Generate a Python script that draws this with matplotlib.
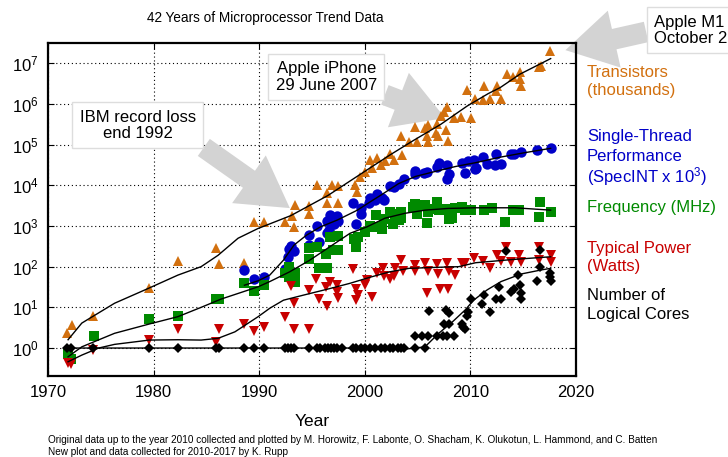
"""
42 years of microprocessor trend data (Rupp / Horowitz et al.), re-drawn.
"""

import matplotlib
matplotlib.use("Agg")
import matplotlib.pyplot as plt
from matplotlib import font_manager
from matplotlib.ticker import FixedLocator, NullLocator

plt.rcParams["font.family"] = ["Liberation Sans", "DejaVu Sans"]
plt.rcParams["mathtext.fontset"] = "custom"
plt.rcParams["mathtext.rm"] = "Liberation Sans"
plt.rcParams["mathtext.it"] = "Liberation Sans:italic"
plt.rcParams["mathtext.bf"] = "Liberation Sans:bold"

ORANGE = "#D2700F"
BLUE   = "#0000C8"
GREEN  = "#008A00"
RED    = "#C80000"

#  Transistors (thousands) 
tr_year = [1971.8, 1972.3, 1974.3, 1979.6, 1982.3, 1985.9, 1986.2, 1988.6, 1989.5, 1990.5,
           1992.4, 1993.3, 1993.1, 1993.4, 1994.7, 1994.7, 1995.5, 1996.4, 1996.4, 1996.9,
           1997.5, 1997.5, 1999.1, 1999.3, 1999.5, 2000.0, 2000.5, 2000.7, 2001.2, 2001.5,
           2001.9, 2002.4, 2002.8, 2003.4, 2003.5, 2004.2, 2004.8, 2004.9, 2005.7, 2005.9,
           2006.0, 2006.0, 2006.7, 2006.8, 2006.9, 2007.2, 2007.5, 2007.7, 2007.8, 2007.9,
           2008.4, 2009.1, 2009.7, 2010.1, 2010.4, 2011.2, 2011.3, 2011.9, 2012.4, 2012.5,
           2012.9, 2013.5, 2014.0, 2014.7, 2014.7, 2014.8, 2016.5, 2016.7, 2017.5]
tr_val  = [2.4, 3.7, 6.3, 30, 140, 290, 115, 125, 1250, 1250,
           1250, 950, 1800, 3200, 1950, 3100, 10000, 6300, 3700, 10000,
           9500, 3700, 10000, 6900, 16000, 21000, 42000, 26000, 46000, 32000,
           40000, 59000, 41000, 160000, 56000, 118000, 275000, 118000, 250000, 160000,
           118000, 310000, 190000, 330000, 160000, 510000, 650000, 234000, 850000, 120000,
           440000, 470000, 2200000, 440000, 1350000, 1230000, 2750000, 1290000, 2100000, 2750000,
           1290000, 5400000, 4500000, 6200000, 4000000, 2750000, 8100000, 8500000, 20000000]

#  Single-thread performance (SpecINT x 10^3) 
st_year = [1988.6, 1989.5, 1990.5, 1992.4, 1992.7, 1993.0, 1992.8, 1993.3, 1994.7, 1994.7,
           1995.7, 1995.5, 1996.4, 1996.4, 1996.6, 1996.7, 1997.1, 1997.4, 1997.5, 1998.9,
           1999.2, 1999.6, 1999.6, 2000.4, 2000.5, 2001.0, 2001.2, 2001.6, 2001.8, 2002.4,
           2002.8, 2003.2, 2003.7, 2004.8, 2004.8, 2005.6, 2005.9, 2006.8, 2007.0, 2007.8,
           2008.0, 2007.8, 2009.2, 2009.5, 2009.8, 2010.3, 2010.4, 2010.5, 2011.2, 2011.6,
           2012.3, 2012.4, 2012.9, 2013.8, 2014.1, 2014.8, 2016.3, 2017.6]
st_val  = [83, 51, 55, 89, 175, 320, 270, 245, 340, 600,
           410, 1000, 1340, 680, 800, 1860, 1150, 1750, 1350, 3600,
           1150, 1950, 2700, 3600, 5000, 4300, 6000, 4800, 4400, 9500,
           9100, 11000, 14000, 19000, 23000, 19500, 21000, 28000, 36000, 32000,
           19000, 14000, 36000, 20000, 39000, 42000, 25000, 26000, 49000, 33000,
           32000, 59000, 33000, 59000, 60000, 66000, 72000, 81000]

#  Frequency (MHz) 
fq_year = [1971.9, 1972.2, 1974.4, 1979.6, 1982.3, 1985.9, 1986.2, 1988.6, 1989.5, 1990.5,
           1992.4, 1992.8, 1993.4, 1993.4, 1992.8, 1994.7, 1994.7, 1995.7, 1996.4, 1996.3,
           1995.5, 1996.7, 1997.5, 1997.5, 1997.0, 1999.2, 1999.0, 1999.4, 2000.0, 2000.5,
           2001.0, 2001.1, 2001.6, 2001.8, 2002.4, 2002.7, 2002.9, 2003.2, 2003.4, 2003.4,
           2004.6, 2004.8, 2004.9, 2005.7, 2005.9, 2006.0, 2006.2, 2006.8, 2007.0, 2007.8,
           2008.0, 2008.3, 2008.5, 2009.2, 2009.5, 2010.1, 2011.3, 2012.0, 2013.3, 2014.0,
           2014.6, 2016.5, 2016.6, 2017.6]
fq_val  = [0.7, 0.53, 2.0, 5.1, 6.1, 16, 16, 40, 25, 35,
           71, 100, 69, 43, 56, 150, 280, 91, 91, 200,
           300, 540, 560, 260, 260, 310, 490, 540, 730, 1000,
           950, 1900, 830, 1450, 2200, 1150, 1950, 1400, 1550, 2200,
           3000, 3550, 2000, 3200, 1200, 2200, 2600, 3900, 2450, 2600,
           1450, 1550, 2700, 2950, 2500, 2500, 2450, 2700, 1260, 2450,
           2450, 1700, 3900, 2240]

#  Typical power (Watts) 
pw_year = [1971.9, 1972.2, 1974.3, 1979.6, 1982.3, 1985.9, 1986.2, 1988.6, 1989.5, 1990.5,
           1992.4, 1993.0, 1993.3, 1993.3, 1994.7, 1994.7, 1995.4, 1995.7, 1996.3, 1996.4,
           1996.7, 1997.4, 1997.4, 1997.5, 1998.9, 1999.2, 1999.4, 1999.2, 2000.0, 2000.2,
           2000.7, 2001.2, 2001.7, 2001.8, 2002.4, 2002.8, 2002.9, 2003.4, 2003.6, 2004.8,
           2004.8, 2005.7, 2005.9, 2006.0, 2006.8, 2006.9, 2007.1, 2007.8, 2007.9, 2008.0,
           2008.5, 2009.2, 2009.5, 2010.3, 2011.2, 2011.9, 2012.5, 2012.9, 2013.4, 2013.8,
           2014.6, 2014.8, 2016.5, 2016.5, 2017.6, 2017.6]
pw_val  = [0.44, 0.41, 0.9, 1.6, 2.9, 1.4, 2.9, 3.8, 2.6, 3.3,
           5.7, 33, 13, 3.0, 3.0, 27, 49, 16, 32, 11,
           43, 35, 24, 17, 86, 29, 20, 15, 35, 47,
           18, 71, 94, 59, 49, 59, 91, 145, 80, 110,
           80, 125, 23, 80, 115, 66, 29, 125, 29, 80,
           62, 125, 125, 160, 140, 91, 195, 140, 310, 130,
           195, 130, 300, 145, 195, 130]

#  Number of logical cores 
co_year = [1971.8, 1972.2, 1974.3, 1979.6, 1982.3, 1985.9, 1986.2, 1988.6, 1989.5, 1990.5,
           1992.4, 1992.7, 1993.0, 1993.3, 1994.7, 1995.5, 1995.8, 1996.2, 1996.5, 1996.8,
           1997.1, 1997.4, 1997.8, 1998.9, 1999.2, 1999.6, 2000.0, 2000.5, 2001.0, 2001.5,
           2001.9, 2002.4, 2002.7, 2003.1, 2003.4, 2003.7, 2004.8, 2005.7,
           2004.8, 2005.4, 2006.0, 2006.8, 2007.4, 2007.8, 2008.4,
           2006.1, 2007.7, 2008.0, 2007.5, 2008.0, 2009.2, 2009.3, 2009.5, 2009.7, 2009.8,
           2010.1, 2011.1, 2011.3, 2011.9, 2012.4, 2012.9, 2012.7, 2013.4, 2013.8, 2014.1,
           2014.5, 2014.7, 2014.8, 2014.8, 2016.3, 2016.6, 2016.6, 2017.5, 2017.5, 2017.6]
co_val  = [1, 1, 1, 1, 1, 1, 1, 1, 1, 1,
           1, 1, 1, 1, 1, 1, 1, 1, 1, 1,
           1, 1, 1, 1, 1, 1, 1, 1, 1, 1,
           1, 1, 1, 1, 1, 1, 1, 1,
           2, 2, 2, 2, 2, 2, 2,
           8, 8.6, 7.4, 4, 4, 4, 3.3, 3, 6, 7.8,
           16, 12, 20, 7.8, 16, 16, 31, 240, 24, 29,
           62, 35, 23, 16, 45, 96, 260, 68, 55, 45]

#  Trend lines 
tr_fit_year = [1971.9, 1973.2, 1976.3, 1979.6, 1982.3, 1984.5, 1986.1, 1988.0, 1989.9, 1993.0,
               1996.5, 2000.0, 2002.4, 2004.6, 2007.2, 2009.7, 2011.7, 2012.8, 2014.7, 2017.6]
tr_fit_val  = [1.6, 4.1, 12.6, 30, 62, 100, 190, 500, 870, 1800,
               5600, 22000, 56000, 126000, 316000, 890000, 1800000, 2500000, 5400000, 13000000]

st_fit_year = [1988.6, 1989.9, 1991.0, 1992.3, 1993.3, 1994.5, 1995.8, 1997.4, 1999.3, 2000.5,
               2001.6, 2003.2, 2004.8, 2006.7, 2008.6, 2010.5, 2012.8, 2015.1, 2017.6]
st_fit_val  = [35, 45, 62, 145, 340, 600, 950, 1400, 2450, 3900,
               5900, 11000, 16500, 22000, 29000, 36000, 49000, 63000, 81000]

fq_fit_year = [1971.9, 1973.2, 1976.3, 1979.6, 1982.3, 1984.5, 1986.4, 1989.9, 1991.0, 1992.9,
               1994.8, 1996.7, 1998.6, 2000.2, 2001.9, 2003.8, 2005.7, 2007.9, 2010.5, 2014.2,
               2017.6]
fq_fit_val  = [0.61, 1.07, 2.3, 3.9, 5.9, 10, 16, 32, 43, 75,
               145, 310, 660, 950, 1550, 2050, 2450, 2700, 2800, 2800,
               2450]

pw_fit_year = [1971.9, 1973.2, 1974.8, 1976.3, 1979.6, 1982.3, 1984.5, 1986.1, 1987.7, 1989.9,
               1991.0, 1992.3, 1994.2, 1996.7, 1998.6, 2000.5, 2002.4, 2004.2, 2006.7, 2008.9,
               2010.5, 2014.0, 2017.6]
pw_fit_val  = [0.46, 0.67, 1.0, 1.23, 1.57, 1.6, 1.57, 1.73, 2.5, 5.9,
               9.5, 15, 20, 29, 39, 55, 75, 91, 96, 100,
               125, 150, 175]

co_fit_year = [1971.8, 2002.0, 2004.0, 2005.7, 2007.0, 2008.3, 2009.5, 2010.3, 2011.6, 2012.9,
               2014.8, 2016.7, 2017.6]
co_fit_val  = [1, 1, 0.95, 1.07, 2.3, 4.4, 8.6, 15, 27, 43,
               66, 83, 91]

x_ticks = [1970, 1980, 1990, 2000, 2010, 2020]
y_ticks = [1e0, 1e1, 1e2, 1e3, 1e4, 1e5, 1e6, 1e7]

#  Figure 
W, H = 728, 457
fig = plt.figure(figsize=(W / 100, H / 100), dpi=100)
ax = fig.add_axes([48 / W, 1 - 375.7 / H, 528 / W, 332.4 / H])

ax.set_yscale("log")
ax.set_xlim(1970, 2020)
ax.set_ylim(10 ** -0.68, 10 ** 7.49)

ax.plot(tr_year, tr_val, "^", color=ORANGE, ms=6.5, mew=0, zorder=3)
ax.plot(st_year, st_val, "o", color=BLUE, ms=7.5, mew=0, zorder=3)
ax.plot(fq_year, fq_val, "s", color=GREEN, ms=6.5, mew=0, zorder=3)
ax.plot(pw_year, pw_val, "v", color=RED, ms=6.5, mew=0, zorder=3)
ax.plot(co_year, co_val, "D", color="black", ms=5.2, mew=0, zorder=3)

for fx, fy in [(tr_fit_year, tr_fit_val), (st_fit_year, st_fit_val),
               (fq_fit_year, fq_fit_val), (pw_fit_year, pw_fit_val),
               (co_fit_year, co_fit_val)]:
    ax.plot(fx, fy, color="black", lw=1.0, zorder=4)

ax.xaxis.set_major_locator(FixedLocator(x_ticks))
ax.yaxis.set_major_locator(FixedLocator(y_ticks))
ax.yaxis.set_minor_locator(NullLocator())
ax.grid(True, which="major", color="black", linestyle=(0, (1, 2.5)), linewidth=0.8)
ax.set_axisbelow(True)
ax.tick_params(direction="in", length=4, width=0.8, top=True, right=True,
               labelsize=12, pad=7)
for s in ax.spines.values():
    s.set_linewidth(1.6)

ax.set_xlabel("Year", fontsize=12.5, labelpad=10)
fig.text(265 / W, 1 - 18 / H, "42 Years of Microprocessor Trend Data",
         ha="center", va="center", fontsize=9.8)

#  Legend text on the right 
legend_lines = [
    ("Transistors", 72, ORANGE), ("(thousands)", 91, ORANGE),
    ("Single-Thread", 137, BLUE), ("Performance", 157, BLUE),
    ("(SpecINT x 10$^3$)", 177, BLUE),
    ("Frequency (MHz)", 207, GREEN),
    ("Typical Power", 248, RED), ("(Watts)", 267, RED),
    ("Number of", 296, "black"), ("Logical Cores", 315, "black"),
]
for txt, ypx, col in legend_lines:
    fig.text(587 / W, 1 - ypx / H, txt, color=col, fontsize=12, ha="left", va="center")

#  Annotations with big gray arrows 
box = dict(boxstyle="square,pad=0.45", fc="white", ec="#DDDDDD", lw=1)


def big_arrow(text, xy, xytext, relpos, ha="center"):
    ax.annotate(text, xy=xy, xytext=xytext, textcoords="data", ha=ha, va="center",
                fontsize=12, linespacing=1.1, bbox=box, annotation_clip=False, zorder=2,
                arrowprops=dict(arrowstyle="simple,head_length=1.8,head_width=2.1,tail_width=0.75",
                                fc="#D3D3D3", ec="none", mutation_scale=20,
                                relpos=relpos, shrinkA=0, shrinkB=0))


big_arrow("IBM record loss\nend 1992", (1992.9, 2750), (1978.5, 3.0e5), (0.95, 0.1))
big_arrow("Apple iPhone\n29 June 2007", (2007.6, 4.5e5), (1996.35, 4.6e6), (0.9, 0.15))
big_arrow("Apple M1\nOctober 2020", (2019.0, 2.1e7), (2027.4, 6.5e7), (0.0, 0.5), ha="left")

#  Footnote 
names = {f.name for f in font_manager.fontManager.ttflist}
narrow = "Liberation Sans Narrow" in names
foot_family = "Liberation Sans Narrow" if narrow else "Liberation Sans"
foot_size = 8 if narrow else 7.2
fig.text(48 / W, 1 - 440 / H,
         "Original data up to the year 2010 collected and plotted by M. Horowitz, F. Labonte, "
         "O. Shacham, K. Olukotun, L. Hammond, and C. Batten",
         fontsize=foot_size, family=foot_family, va="center")
fig.text(48 / W, 1 - 452 / H, "New plot and data collected for 2010-2017 by K. Rupp",
         fontsize=foot_size, family=foot_family, va="center")

fig.savefig("out.png", dpi=100)
